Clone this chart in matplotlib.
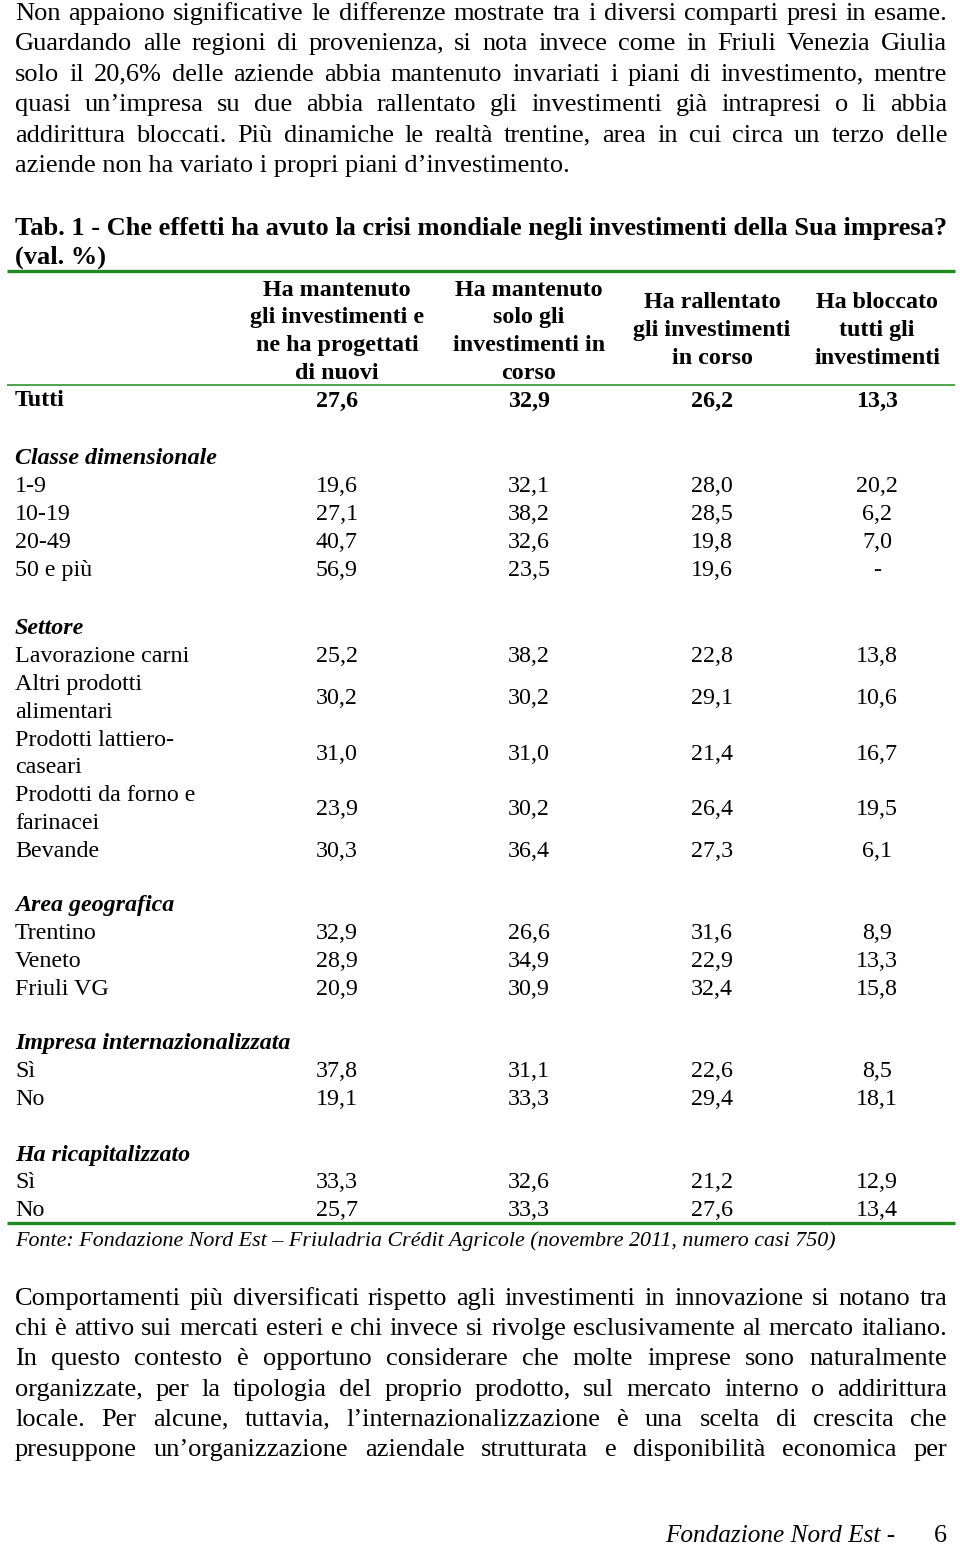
import matplotlib
matplotlib.use('Agg')
import matplotlib.pyplot as plt

plt.rcParams['font.family'] = ['Liberation Serif', 'DejaVu Serif']

# testo della pagina
para_top = [
    "Non appaiono significative le differenze mostrate tra i diversi comparti presi in esame.",
    "Guardando alle regioni di provenienza, si nota invece come in Friuli Venezia Giulia",
    "solo il 20,6% delle aziende abbia mantenuto invariati i piani di investimento, mentre",
    "quasi un\u2019impresa su due abbia rallentato gli investimenti gi\u00e0 intrapresi o li abbia",
    "addirittura bloccati. Pi\u00f9 dinamiche le realt\u00e0 trentine, area in cui circa un terzo delle",
    "aziende non ha variato i propri piani d\u2019investimento.",
]
para_bottom = [
    "Comportamenti pi\u00f9 diversificati rispetto agli investimenti in innovazione si notano tra",
    "chi \u00e8 attivo sui mercati esteri e chi invece si rivolge esclusivamente al mercato italiano.",
    "In questo contesto \u00e8 opportuno considerare che molte imprese sono naturalmente",
    "organizzate, per la tipologia del proprio prodotto, sul mercato interno o addirittura",
    "locale. Per alcune, tuttavia, l\u2019internazionalizzazione \u00e8 una scelta di crescita che",
    "presuppone un\u2019organizzazione aziendale strutturata e disponibilit\u00e0 economica per",
]
title = ["Tab. 1 - Che effetti ha avuto la crisi mondiale negli investimenti della Sua impresa?",
         "(val. %)"]
col_headers = [
    ["Ha mantenuto", "gli investimenti e", "ne ha progettati", "di nuovi"],
    ["Ha mantenuto", "solo gli", "investimenti in", "corso"],
    ["Ha rallentato", "gli investimenti", "in corso"],
    ["Ha bloccato", "tutti gli", "investimenti"],
]
source = "Fonte: Fondazione Nord Est \u2013 Friuladria Cr\u00e9dit Agricole (novembre 2011, numero casi 750)"

# righe della tabella: (sezione, etichette, valori)
sections = [None, "Classe dimensionale", "Settore", "Area geografica",
            "Impresa internazionalizzata", "Ha ricapitalizzato"]
row_labels = [
    [["Tutti"]],
    [["1-9"], ["10-19"], ["20-49"], ["50 e pi\u00f9"]],
    [["Lavorazione carni"], ["Altri prodotti", "alimentari"],
     ["Prodotti lattiero-", "caseari"], ["Prodotti da forno e", "farinacei"], ["Bevande"]],
    [["Trentino"], ["Veneto"], ["Friuli VG"]],
    [["S\u00ec"], ["No"]],
    [["S\u00ec"], ["No"]],
]
row_values = [
    [[27.6, 32.9, 26.2, 13.3]],
    [[19.6, 32.1, 28.0, 20.2], [27.1, 38.2, 28.5, 6.2],
     [40.7, 32.6, 19.8, 7.0], [56.9, 23.5, 19.6, None]],
    [[25.2, 38.2, 22.8, 13.8], [30.2, 30.2, 29.1, 10.6], [31.0, 31.0, 21.4, 16.7],
     [23.9, 30.2, 26.4, 19.5], [30.3, 36.4, 27.3, 6.1]],
    [[32.9, 26.6, 31.6, 8.9], [28.9, 34.9, 22.9, 13.3], [20.9, 30.9, 32.4, 15.8]],
    [[37.8, 31.1, 22.6, 8.5], [19.1, 33.3, 29.4, 18.1]],
    [[33.3, 32.6, 21.2, 12.9], [25.7, 33.3, 27.6, 13.4]],
]

GREEN = '#1f8a1f'
BODY = 19
TAB = 17.3
LH = 27.8
sec_y = [400, 458, 628, 905, 1043, 1154]

fig = plt.figure(figsize=(9.6, 15.5), dpi=100)
ax = fig.add_axes([0, 0, 1, 1])
ax.set_xlim(0, 960)
ax.set_ylim(1550, 0)
ax.axis('off')
renderer = fig.canvas.get_renderer()


def justified(lines, y0, step, last_free, x0=15, x1=947, size=BODY):
    for i, line in enumerate(lines):
        y = y0 + i * step
        if i == len(lines) - 1 and last_free:
            ax.text(x0, y, line, fontsize=size, va='center', ha='left')
            continue
        words = line.split(' ')
        arts = [ax.text(0, y, w, fontsize=size, va='center', ha='left') for w in words]
        widths = [a.get_window_extent(renderer).width for a in arts]
        gap = (x1 - x0 - sum(widths)) / max(len(words) - 1, 1)
        x = x0
        for a, w in zip(arts, widths):
            a.set_x(x)
            x += w + gap


justified(para_top, 14, 30.4, True)
justified(para_bottom, 1299, 30.2, False)

ax.text(15, 228, title[0], fontsize=BODY, fontweight='bold', va='center')
ax.text(15, 257, title[1], fontsize=BODY, fontweight='bold', va='center')

col_x = [337, 529, 712, 877]
for cx, hdr in zip(col_x, col_headers):
    y0 = 290 if len(hdr) == 4 else 303
    for j, h in enumerate(hdr):
        ax.text(cx, y0 + j * 27.8, h, fontsize=TAB, fontweight='bold',
                ha='center', va='center')

ax.plot([7, 955], [271, 271], color=GREEN, lw=2.4, solid_capstyle='butt')
ax.plot([7, 955], [385, 385], color=GREEN, lw=1.1, solid_capstyle='butt')
ax.plot([7, 955], [1223, 1223], color=GREEN, lw=2.4, solid_capstyle='butt')

for sy, sec, labels, vals in zip(sec_y, sections, row_labels, row_values):
    y = sy + 1
    if sec is not None:
        ax.text(15, y, sec, fontsize=TAB, fontweight='bold', fontstyle='italic', va='center')
        y += LH
    bold = 'bold' if sec is None else 'normal'
    for lab, v in zip(labels, vals):
        for j, part in enumerate(lab):
            ax.text(15, y + j * LH, part, fontsize=TAB, va='center', fontweight=bold)
        yv = y + (len(lab) - 1) * LH / 2
        for cx, val in zip(col_x, v):
            s = '-' if val is None else f"{val:.1f}".replace('.', ',')
            ax.text(cx, yv, s, fontsize=TAB, ha='center', va='center', fontweight=bold)
        y += len(lab) * LH

ax.text(15, 1241, source, fontsize=15.8, fontstyle='italic', va='center')

ax.text(895, 1536, "Fondazione Nord Est -", fontsize=18.2, fontstyle='italic',
        ha='right', va='center')
ax.text(947, 1536, "6", fontsize=18.8, ha='right', va='center')

fig.savefig('out.png', dpi=100)
